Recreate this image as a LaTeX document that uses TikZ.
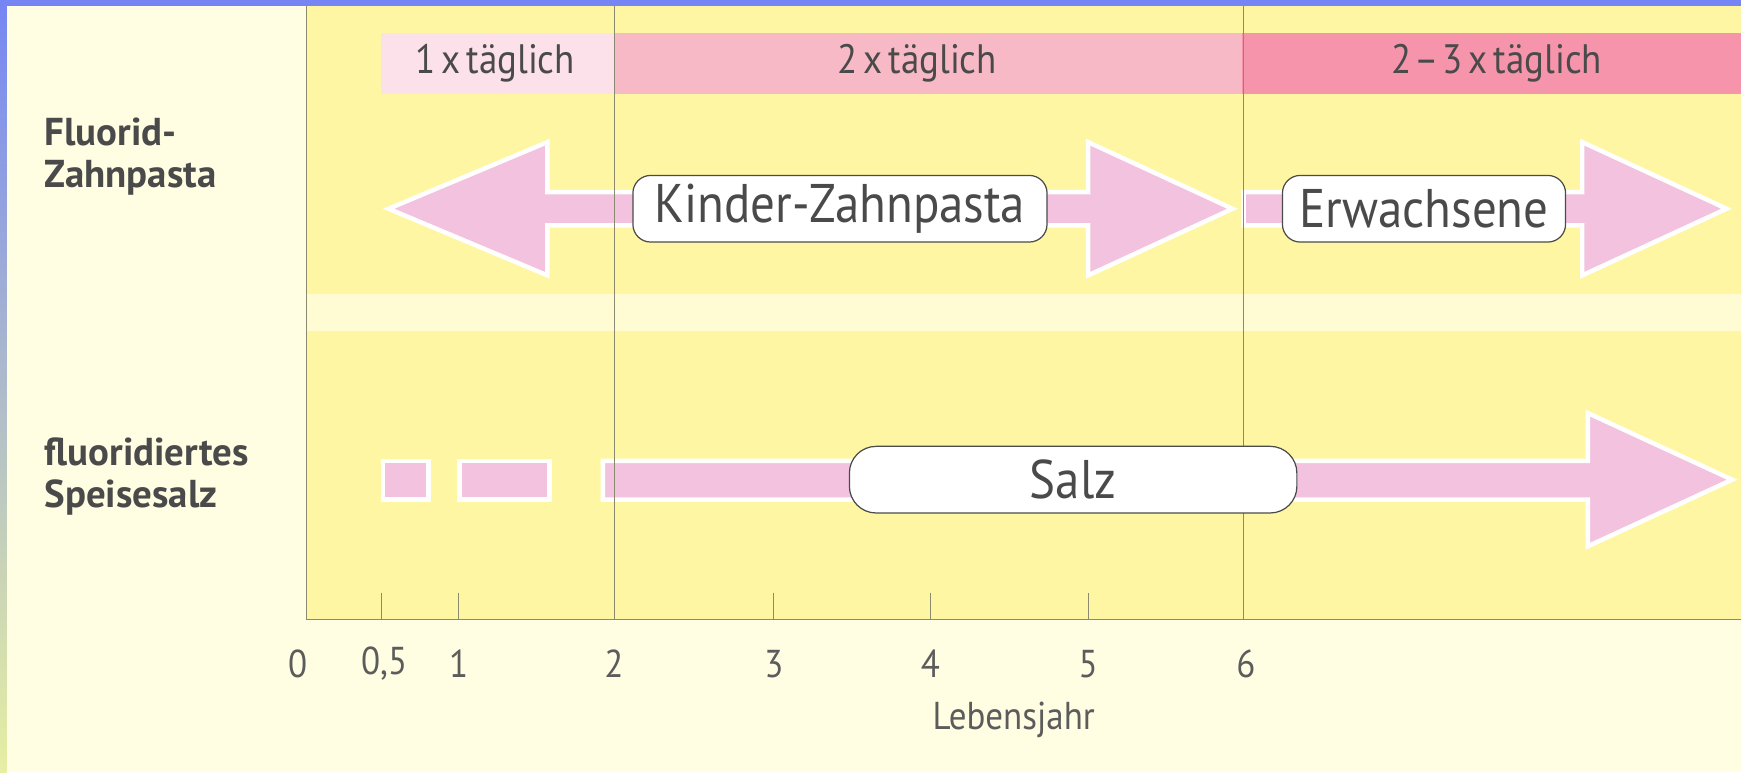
\documentclass[tikz,border=0pt]{standalone}
\usepackage{fontspec}
\setmainfont{PT Sans}
\newfontfamily\cond{PT Sans}[FakeStretch=0.9,WordSpace=0.6]
\definecolor{cream}{HTML}{FFFEE3}
\definecolor{chartyellow}{HTML}{FFF6A3}
\definecolor{stripe}{HTML}{FFFBD2}
\definecolor{pinkA}{HTML}{FCE1EB}
\definecolor{pinkB}{HTML}{F8B9C7}
\definecolor{pinkC}{HTML}{F594AA}
\definecolor{arrowpink}{HTML}{F2C2DF}
\definecolor{txt}{HTML}{4A4A4A}
\definecolor{bordblue}{HTML}{7586F4}
\definecolor{bordlow}{HTML}{E6EFA2}
\definecolor{gridline}{HTML}{8A8A70}
\tikzset{
  blockarrow/.style={fill=arrowpink, draw=white, line width=4pt, line join=miter},
  labelbox/.style={draw=txt, fill=white, line width=1.1pt, rounded corners=16pt, text=txt, inner sep=0pt, font=\cond\fontsize{49}{56}\selectfont},
  bartext/.style={text=txt, inner sep=0pt, font=\cond\fontsize{37}{42}\selectfont},
  ticklabel/.style={text=txt!90, inner sep=0pt, font=\cond\fontsize{35}{40}\selectfont},
  sidelabel/.style={text=txt, inner sep=0pt, anchor=north west, align=left, font=\bfseries\fontsize{35}{38}\selectfont},
  axisline/.style={draw=gridline, line width=1.6pt},
  thinline/.style={draw=gridline, line width=0.9pt}
}
\begin{document}
\begin{tikzpicture}[x=1pt,y=-1pt]
\useasboundingbox (0,0) rectangle (1568,695.3);
% background
\fill[cream] (0,0) rectangle (1568,695.3);
\shade[top color=bordblue, bottom color=bordlow] (0,0) rectangle (6,695.3);
\fill[bordblue] (0,0) rectangle (1568,5);
% chart area
\fill[chartyellow] (276,5) rectangle (1568,558);
\fill[stripe] (276,265) rectangle (1568,298);
% frequency bars
\fill[pinkA] (343,30) rectangle (553,85);
\fill[pinkB] (553,30) rectangle (1119,85);
\fill[pinkC] (1119,30) rectangle (1568,85);
\node[bartext] (b1) at (446,57) {1 x täglich};
\node[bartext] (b2) at (826,57) {2 x täglich};
\node[bartext] (b3) at (1348,57) {2\kern3pt–\kern3pt3 x täglich};
% block arrows
\draw[blockarrow] (350,188) -- (493,128) -- (493,173) -- (980,173) -- (980,128) -- (1110,188) -- (980,248) -- (980,203) -- (493,203) -- (493,248) -- cycle;
\draw[blockarrow] (1120,173) -- (1425,173) -- (1425,128) -- (1555,188) -- (1425,248) -- (1425,203) -- (1120,203) -- cycle;
\draw[blockarrow] (345,415) rectangle (386,450);
\draw[blockarrow] (414,415) rectangle (495,450);
\draw[blockarrow] (543,415) -- (1430,415) -- (1430,372) -- (1560,432) -- (1430,492) -- (1430,450) -- (543,450) -- cycle;
% grid lines
\coordinate (g2t) at (553,5);
\coordinate (g2b) at (553,558);
\coordinate (g6t) at (1120,5);
\coordinate (g6b) at (1120,558);
\draw[thinline] (g2t) -- (g2b);
\draw[thinline] (g6t) -- (g6b);
\foreach \x in {344,413,697,838,980}{
  \draw[thinline] (\x,534) -- (\x,558);
}
% axes
\coordinate (o) at (276,558);
\coordinate (ytop) at (276,5);
\coordinate (xend) at (1568,558);
\draw[axisline] (ytop) -- (o) -- (xend);
% label boxes
\node[labelbox, minimum width=373pt, minimum height=60pt] (kz) at (756.5,188) {Kinder-Zahnpasta};
\node[labelbox, minimum width=255pt, minimum height=60pt] (er) at (1282.5,188) {Erwachsene};
\node[labelbox, minimum width=403pt, minimum height=60pt, rounded corners=24pt] (sa) at (966.5,432) {Salz};
% side labels
\node[sidelabel] (fz) at (40,106) {Fluorid-\\Zahnpasta};
\node[sidelabel] (fs) at (40,394) {fluoridiertes\\Speisesalz};
% tick labels
\node[ticklabel] (t0) at (268,598) {0};
\node[ticklabel] (t05) at (346,598) {0,5};
\node[ticklabel] (t1) at (413,598) {1};
\node[ticklabel] (t2) at (553,598) {2};
\node[ticklabel] (t3) at (697,598) {3};
\node[ticklabel] (t4) at (838,598) {4};
\node[ticklabel] (t5) at (980,598) {5};
\node[ticklabel] (t6) at (1122,598) {6};
\node[ticklabel] (lj) at (913,648) {Lebensjahr};
\end{tikzpicture}
\end{document}
